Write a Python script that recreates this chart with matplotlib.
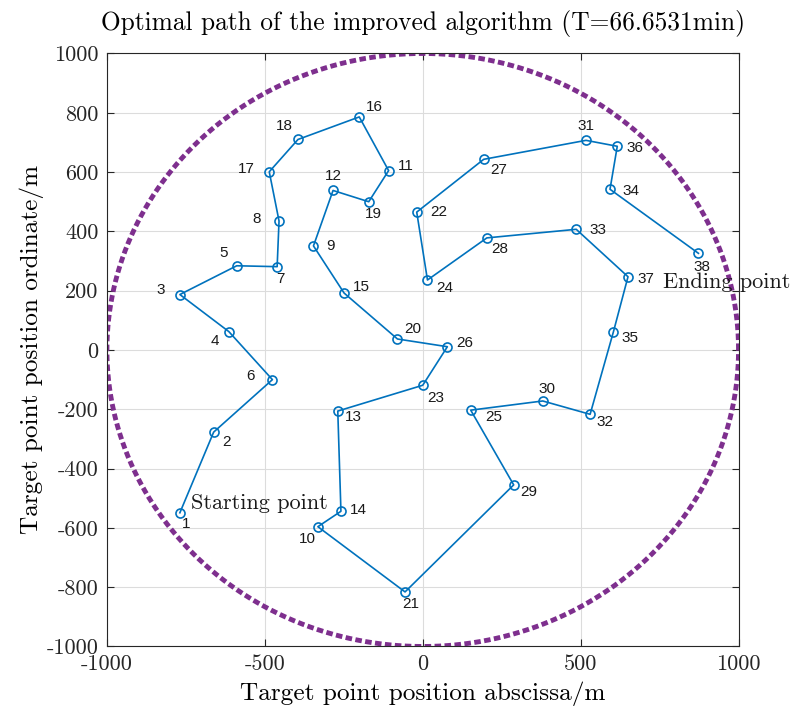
import numpy as np
import matplotlib.pyplot as plt

plt.rcParams['font.family'] = 'cmr10'
plt.rcParams['mathtext.fontset'] = 'cm'
plt.rcParams['axes.unicode_minus'] = False
plt.rcParams['axes.formatter.use_mathtext'] = False

# target point coordinates (m), indexed by point number 1..38
px = [-769, -662, -769, -614, -589, -476, -461, -455, -346, -332,
      -108, -284, -269, -259, -249, -201, -486, -395, -171, -80,
      -56, -19, 0, 15, 152, 78, 193, 203, 288, 380,
      517, 530, 486, 593, 604, 616, 650, 873]
py = [-549, -277, 187, 62, 284, -100, 281, 435, 351, -596,
      605, 538, -206, -544, 192, 786, 601, 710, 500, 37,
      -816, 465, -119, 236, -203, 11, 643, 378, -455, -172,
      707, -217, 407, 542, 62, 687, 247, 326]

# visiting order of the optimal route
route = [1, 2, 6, 4, 3, 5, 7, 8, 17, 18, 16, 11, 19, 12, 9, 15, 20, 26, 23, 13,
         14, 10, 21, 29, 25, 30, 32, 35, 37, 33, 28, 24, 22, 27, 31, 36, 34, 38]

# label offsets in pixels (dx right, dy down)
lab_off = [(6, 11), (13, 10), (-19, -5), (-14, 9), (-13, -13), (-22, -4), (3, 12),
           (-22, -2), (17, 0), (-11, 12), (17, -5), (0, -14), (16, 6), (17, -1),
           (17, -6), (15, -10), (-23, -3), (-14, -13), (5, 12), (15, -10), (6, 12),
           (22, 0), (13, 13), (17, 8), (23, 7), (17, -4), (15, 11), (13, 11),
           (15, 7), (4, -12), (0, -14), (15, 8), (22, 1), (21, 2), (16, 6),
           (18, 2), (18, 2), (4, 14)]

T = 66.6531
R = 1000

fig = plt.figure(figsize=(7.92, 7.13), dpi=100)
ax = fig.add_axes([0.135, 0.0933, 0.7975, 0.8317])

# boundary circle
th = np.linspace(0, 2 * np.pi, 721)
ax.plot(R * np.cos(th), R * np.sin(th), color='#7E2F8E', lw=3.5,
        linestyle=(0, (1.35, 0.7)), dash_capstyle='butt', zorder=2)

rx = [px[i - 1] for i in route]
ry = [py[i - 1] for i in route]
ax.plot(rx, ry, '-o', color='#0072BD', lw=1.2, ms=6.5, mfc='none', mew=1.2, zorder=3)

for i in range(len(px)):
    dx, dy = lab_off[i]
    ax.annotate(str(i + 1), (px[i], py[i]), xytext=(dx * 0.72, -dy * 0.72),
                textcoords='offset points', ha='center', va='center',
                fontsize=11, family='Liberation Sans', color='#1a1a1a', zorder=4)

ax.text(-734, -516, 'Starting point', fontsize=16, ha='left', va='center', color='#1a1a1a')
ax.text(762, 227, 'Ending point', fontsize=16, ha='left', va='center', color='#1a1a1a')

ax.set_xlim(-1000, 1000)
ax.set_ylim(-1000, 1000)
ax.set_xticks(np.arange(-1000, 1001, 500))
ax.set_yticks(np.arange(-1000, 1001, 200))
ax.grid(True, color='#dcdcdc', lw=0.8)
ax.set_axisbelow(True)
ax.tick_params(direction='in', top=True, right=True, labelsize=16, length=5,
               color='#262626', labelcolor='#262626', pad=6)
for s in ax.spines.values():
    s.set_color('#262626')
    s.set_linewidth(0.8)

ax.set_title('Optimal path of the improved algorithm (T=%.4fmin)' % T, fontsize=18.3, pad=17)
ax.set_xlabel('Target point position abscissa/m', fontsize=18.2, labelpad=5)
ax.set_ylabel('Target point position ordinate/m', fontsize=18.2, labelpad=2)

fig.savefig('out.png', dpi=100)
